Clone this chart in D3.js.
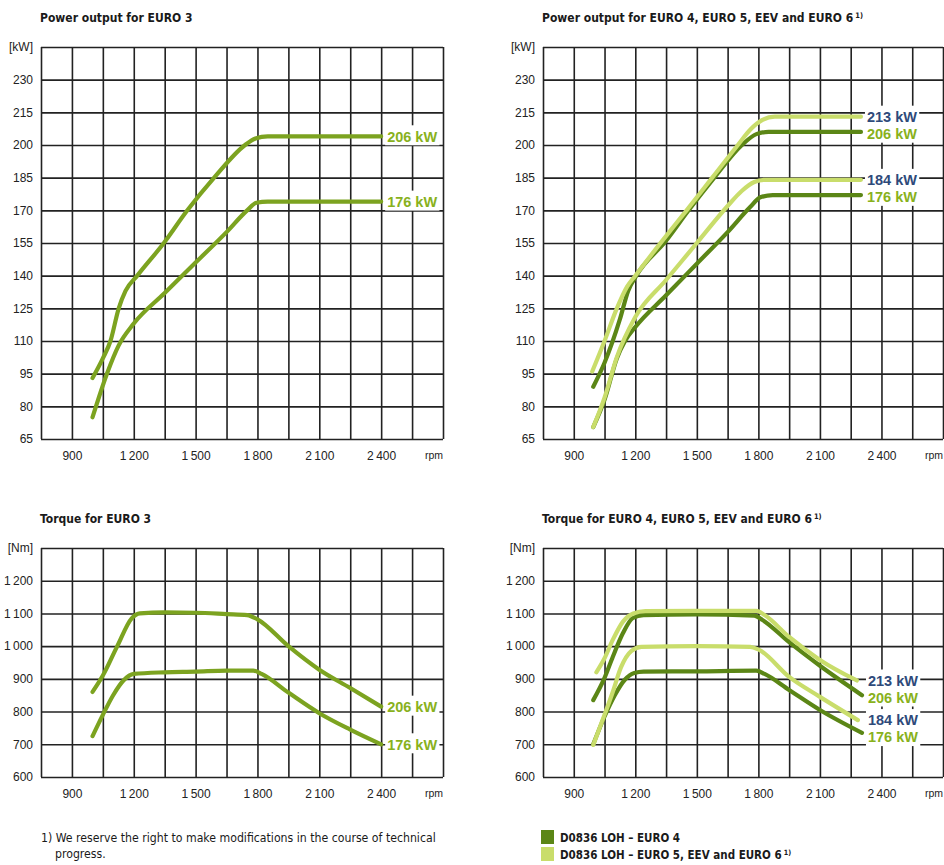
<!DOCTYPE html>
<html>
<head>
<meta charset="utf-8">
<script src="https://cdn.jsdelivr.net/npm/d3@7"></script>
<style>
  body { margin: 0; background: #fff; }
  svg { display: block; }
  text { font-family: "Liberation Sans", Arial, sans-serif; }
  .grid path, .ticks path { display: none; }
  .grid line { stroke: #222; stroke-width: 1.6; }
  .ticks text { font-family: "Liberation Sans", Arial, sans-serif; font-size: 12px; fill: #222; }
  .narrow { font-family: "Liberation Sans Narrow", "DejaVu Sans Condensed", sans-serif; }
</style>
</head>
<body>
<svg id="chart" width="944" height="865"></svg>
<script>
// axes
const rpmDomain = [750, 2700]
const rpmGrid = d3.range(750, 2701, 150)
const rpmTicks = [900, 1200, 1500, 1800, 2100, 2400]
const powerDomain = [65, 245]
const powerGrid = d3.range(65, 246, 15)
const powerTicks = [65, 80, 95, 110, 125, 140, 155, 170, 185, 200, 215, 230]
const torqueDomain = [600, 1300]
const torqueGrid = d3.range(600, 1301, 100)
const torqueTicks = [600, 700, 800, 900, 1000, 1100, 1200]

// power output, EURO 3
const pow3Rpm206 = [1000, 1050, 1087, 1127, 1160, 1217, 1346, 1460, 1590, 1740, 1790, 1850, 2400]
const pow3Kw206 = [93, 102, 110, 125, 133, 140, 155, 170, 185, 200, 203, 204, 204]
const pow3Rpm176 = [1000, 1070, 1127, 1200, 1350, 1500, 1650, 1750, 1795, 1850, 2400]
const pow3Kw176 = [75, 95, 108, 118, 132, 146, 160, 170, 173.5, 174, 174]

// power output, EURO 4 (dark) and EURO 5 / EEV / EURO 6 (light)
const pow4Rpm206 = [995, 1050, 1125, 1165, 1205, 1350, 1460, 1585, 1720, 1790, 1850, 2300]
const pow4Kw206 = [89, 100, 120, 133, 140, 156, 170, 185, 200, 205, 206, 206]
const pow4Rpm176 = [995, 1050, 1110, 1150, 1200, 1350, 1500, 1650, 1760, 1810, 1870, 2300]
const pow4Kw176 = [70.5, 83, 102, 110, 116.4, 131, 145.5, 160, 171.5, 176, 177, 177]
const pow5Rpm213 = [990, 1050, 1110, 1160, 1200, 1340, 1450, 1575, 1700, 1760, 1820, 1880, 2300]
const pow5Kw213 = [96, 110, 125, 135, 140, 157, 170, 185, 200, 207, 211.5, 213, 213]
const pow5Rpm184 = [995, 1050, 1110, 1200, 1350, 1500, 1650, 1720, 1780, 1830, 2300]
const pow5Kw184 = [70.5, 84, 102.6, 121, 138, 155, 172, 179, 183, 184, 184]

// torque, EURO 3
const tq3Rpm206 = [1000, 1050, 1120, 1190, 1230, 1350, 1500, 1650, 1750, 1800, 1950, 2100, 2250, 2400]
const tq3Nm206 = [860, 910, 1000, 1085, 1100, 1103, 1102, 1098, 1095, 1082, 1000, 928, 872, 815]
const tq3Rpm176 = [1000, 1050, 1100, 1150, 1200, 1350, 1500, 1650, 1780, 1820, 1950, 2100, 2250, 2400]
const tq3Nm176 = [725, 790, 850, 895, 915, 920, 922, 925, 925, 915, 858, 795, 745, 700]

// torque, EURO 4 (dark) and EURO 5 / EEV / EURO 6 (light)
const tq4Rpm206 = [995, 1050, 1090, 1140, 1188, 1240, 1500, 1780, 1820, 1950, 2100, 2305]
const tq4Nm206 = [835, 903, 967, 1040, 1086, 1095, 1097, 1093, 1080, 1012, 940, 850]
const tq4Rpm176 = [995, 1050, 1100, 1150, 1195, 1240, 1500, 1790, 1830, 1950, 2100, 2305]
const tq4Nm176 = [700, 785, 850, 898, 918, 922, 923, 925, 915, 866, 805, 735]
const tq5Rpm213 = [1010, 1050, 1090, 1140, 1190, 1250, 1500, 1790, 1830, 1950, 2100, 2280]
const tq5Nm213 = [920, 963, 1019, 1075, 1100, 1107, 1108, 1108, 1095, 1028, 958, 895]
const tq5Rpm184 = [995, 1050, 1090, 1130, 1180, 1230, 1500, 1760, 1800, 1950, 2100, 2285]
const tq5Nm184 = [698, 790, 860, 935, 985, 998, 1000, 998, 990, 906, 845, 774]

const legendLabels = ['D0836 LOH \u2013 EURO 4', 'D0836 LOH \u2013 EURO 5, EEV and EURO 6']

const euro3Color = '#7ca320'
const euro4Color = '#5b8616'
const euro5Color = '#c9dd6b'
const greenText = '#88b11c'
const navyText = '#2e4a7a'

const zip = (xs, ys) => xs.map((v, i) => [v, ys[i]])
const fmt = d3.formatLocale({ decimal: '.', thousands: '\u2009', grouping: [3], currency: ['', ''] }).format(',')

const svg = d3.select('#chart')

const panels = [
  {
    title: 'Power output for EURO 3', sup: false,
    left: 41, right: 443, top: 47, bottom: 439,
    domain: powerDomain, grid: powerGrid, ticks: powerTicks, unit: '[kW]',
    series: [
      { data: zip(pow3Rpm206, pow3Kw206), color: euro3Color, label: '206 kW', labelColor: greenText },
      { data: zip(pow3Rpm176, pow3Kw176), color: euro3Color, label: '176 kW', labelColor: greenText }
    ]
  },
  {
    title: 'Power output for EURO 4, EURO 5, EEV and EURO 6', sup: true,
    left: 543, right: 943, top: 47, bottom: 439,
    domain: powerDomain, grid: powerGrid, ticks: powerTicks, unit: '[kW]',
    series: [
      { data: zip(pow4Rpm206, pow4Kw206), color: euro4Color, label: '206 kW', labelColor: greenText },
      { data: zip(pow4Rpm176, pow4Kw176), color: euro4Color, label: '176 kW', labelColor: greenText },
      { data: zip(pow5Rpm213, pow5Kw213), color: euro5Color, label: '213 kW', labelColor: navyText },
      { data: zip(pow5Rpm184, pow5Kw184), color: euro5Color, label: '184 kW', labelColor: navyText }
    ]
  },
  {
    title: 'Torque for EURO 3', sup: false,
    left: 41, right: 443, top: 548, bottom: 777,
    domain: torqueDomain, grid: torqueGrid, ticks: torqueTicks, unit: '[Nm]',
    series: [
      { data: zip(tq3Rpm206, tq3Nm206), color: euro3Color, label: '206 kW', labelColor: greenText },
      { data: zip(tq3Rpm176, tq3Nm176), color: euro3Color, label: '176 kW', labelColor: greenText }
    ]
  },
  {
    title: 'Torque for EURO 4, EURO 5, EEV and EURO 6', sup: true,
    left: 543, right: 943, top: 548, bottom: 777,
    domain: torqueDomain, grid: torqueGrid, ticks: torqueTicks, unit: '[Nm]',
    series: [
      { data: zip(tq4Rpm206, tq4Nm206), color: euro4Color, label: '206 kW', labelColor: greenText },
      { data: zip(tq4Rpm176, tq4Nm176), color: euro4Color, label: '176 kW', labelColor: greenText },
      { data: zip(tq5Rpm213, tq5Nm213), color: euro5Color, label: '213 kW', labelColor: navyText },
      { data: zip(tq5Rpm184, tq5Nm184), color: euro5Color, label: '184 kW', labelColor: navyText }
    ]
  }
]

function addTitle(g, x, y, text, sup, size) {
  const t = g.append('text').attr('class', 'narrow').attr('x', x).attr('y', y)
    .attr('font-size', size).attr('font-weight', 'bold').attr('fill', '#1a1a1a')
  t.append('tspan').text(text)
  if (sup) {
    t.append('tspan').attr('dx', 2).attr('dy', -4).attr('font-size', size * 0.62).text('1)')
  }
  return t
}

function drawPanel(p) {
  const x = d3.scaleLinear().domain(rpmDomain).range([p.left, p.right])
  const y = d3.scaleLinear().domain(p.domain).range([p.bottom, p.top])
  const w = p.right - p.left
  const h = p.bottom - p.top
  const g = svg.append('g')

  addTitle(g, p.left - 1, p.top - 25, p.title, p.sup, 12)

  // grid
  g.append('g').attr('class', 'grid')
    .attr('transform', `translate(0,${p.bottom})`)
    .call(d3.axisBottom(x).tickValues(rpmGrid).tickSize(-h).tickFormat(''))
  g.append('g').attr('class', 'grid')
    .attr('transform', `translate(${p.left},0)`)
    .call(d3.axisLeft(y).tickValues(p.grid).tickSize(-w).tickFormat(''))

  // tick labels
  g.append('g').attr('class', 'ticks')
    .attr('transform', `translate(0,${p.bottom})`)
    .call(d3.axisBottom(x).tickValues(rpmTicks).tickSize(0).tickPadding(12).tickFormat(fmt))
  g.append('g').attr('class', 'ticks')
    .attr('transform', `translate(${p.left},0)`)
    .call(d3.axisLeft(y).tickValues(p.ticks).tickSize(0).tickPadding(8).tickFormat(fmt))

  g.append('text').attr('x', p.left - 8).attr('y', y(p.domain[1])).attr('dy', '0.35em')
    .attr('text-anchor', 'end').attr('font-size', 12).attr('fill', '#222').text(p.unit)
  g.append('text').attr('x', p.right).attr('y', p.bottom + 20)
    .attr('text-anchor', 'end').attr('font-size', 10.5).attr('fill', '#222').text('rpm')

  // curves
  const line = d3.line().x(d => x(d[0])).y(d => y(d[1])).curve(d3.curveMonotoneX)
  g.append('g').selectAll('path').data(p.series).join('path')
    .attr('d', d => line(d.data))
    .attr('fill', 'none')
    .attr('stroke', d => d.color)
    .attr('stroke-width', 4.2)
    .attr('stroke-linecap', 'round')
    .attr('stroke-linejoin', 'round')

  // end labels, stacked so they do not overlap
  const endRpm = d3.max(p.series, s => s.data[s.data.length - 1][0])
  const labels = p.series
    .map(s => ({ s, ly: y(s.data[s.data.length - 1][1]) }))
    .sort((a, b) => a.ly - b.ly)
  labels.forEach((d, i) => {
    if (i > 0) d.ly = Math.max(d.ly, labels[i - 1].ly + 17)
  })
  const lg = g.append('g')
  labels.forEach(d => {
    const t = lg.append('text').attr('x', x(endRpm) + 6).attr('y', d.ly).attr('dy', '0.36em')
      .attr('font-size', 14.5).attr('font-weight', 'bold').attr('fill', d.s.labelColor)
      .text(d.s.label)
    const bb = t.node().getBBox()
    lg.insert('rect', 'text').attr('x', bb.x - 2).attr('y', d.ly - 11)
      .attr('width', bb.width + 4).attr('height', 20).attr('fill', '#fff')
  })
}

panels.forEach(drawPanel)

// footnote
const foot = svg.append('g')
foot.append('text').attr('class', 'narrow').attr('x', 41).attr('y', 842).attr('font-size', 12.2)
  .attr('fill', '#1a1a1a').text('1) We reserve the right to make modifications in the course of technical')
foot.append('text').attr('class', 'narrow').attr('x', 55).attr('y', 858).attr('font-size', 12.2)
  .attr('fill', '#1a1a1a').text('progress.')

// legend
const legend = svg.append('g').attr('transform', 'translate(541,830)')
legend.selectAll('rect').data([euro4Color, euro5Color]).join('rect')
  .attr('x', 0).attr('y', (d, i) => i * 17).attr('width', 13).attr('height', 14).attr('fill', d => d)
legendLabels.forEach((label, i) => {
  addTitle(legend, 19, i * 17 + 12, label, i === 1, 11.5)
})
</script>
</body>
</html>
